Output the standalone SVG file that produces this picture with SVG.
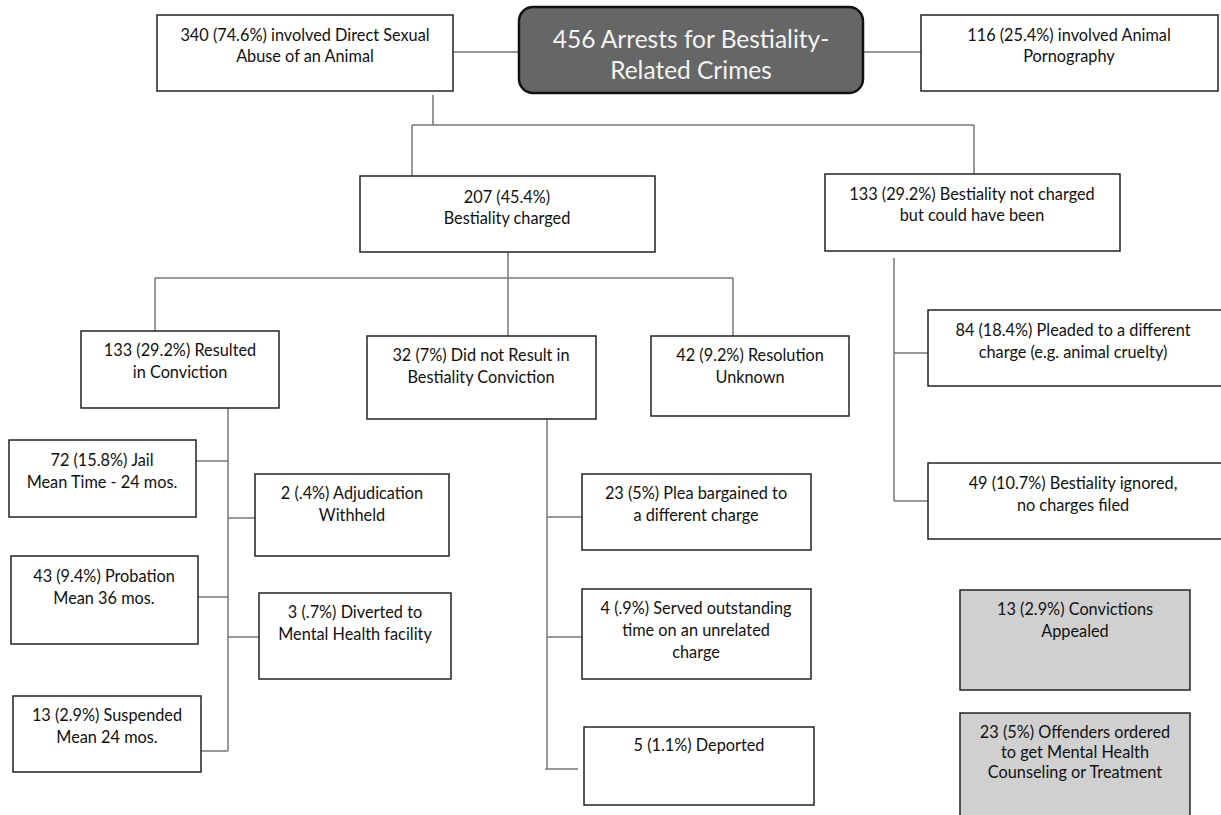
<svg xmlns="http://www.w3.org/2000/svg" width="1221" height="815" viewBox="0 0 1221 815">
<style>
.box{fill:#ffffff;stroke:#222222;stroke-width:1.5}
.grey{fill:#d0d0d0;stroke:#222222;stroke-width:1.5}
.title{fill:#666666;stroke:#111111;stroke-width:2.5}
text{font-family:Lato,"Liberation Sans",sans-serif;font-size:16.3px;fill:#111111;text-anchor:middle}
.tt{font-size:24.5px;fill:#f4f4f4}
.conn line{stroke:#777777;stroke-width:1.5}
</style>
<rect width="1221" height="815" fill="#ffffff"/>
<g id="connectors" class="conn">
<line x1="453" y1="52" x2="519" y2="52"/>
<line x1="863" y1="52" x2="921" y2="52"/>
<line x1="433" y1="95" x2="433" y2="125"/>
<line x1="412" y1="125" x2="974" y2="125"/>
<line x1="412" y1="125" x2="412" y2="176"/>
<line x1="974" y1="125" x2="974" y2="174"/>
<line x1="508" y1="252" x2="508" y2="336"/>
<line x1="155" y1="278" x2="733" y2="278"/>
<line x1="155" y1="278" x2="155" y2="331"/>
<line x1="733" y1="278" x2="733" y2="336"/>
<line x1="228" y1="408" x2="228" y2="751"/>
<line x1="196" y1="461" x2="228" y2="461"/>
<line x1="228" y1="518" x2="255" y2="518"/>
<line x1="198" y1="597" x2="228" y2="597"/>
<line x1="228" y1="637" x2="259" y2="637"/>
<line x1="201" y1="751" x2="228" y2="751"/>
<line x1="547" y1="419" x2="547" y2="769"/>
<line x1="547" y1="517" x2="582" y2="517"/>
<line x1="547" y1="637" x2="582" y2="637"/>
<line x1="545" y1="769" x2="578" y2="769"/>
<line x1="894" y1="258" x2="894" y2="501"/>
<line x1="894" y1="353" x2="928" y2="353"/>
<line x1="894" y1="501" x2="928" y2="501"/>
</g>
<g id="n-title">
<rect class="title" x="519" y="7" width="344" height="86" rx="14"/>
<text class="tt" x="691" y="48">456 Arrests for Bestiality-</text>
<text class="tt" x="691" y="79">Related Crimes</text>
</g>
<g id="n-direct">
<rect class="box" x="157" y="15" width="296" height="76"/>
<text x="305" y="41">340 (74.6%) involved Direct Sexual</text>
<text x="305" y="62">Abuse of an Animal</text>
</g>
<g id="n-porn">
<rect class="box" x="921" y="15" width="297" height="76"/>
<text x="1069" y="41">116 (25.4%) involved Animal</text>
<text x="1069" y="62">Pornography</text>
</g>
<g id="n-charged">
<rect class="box" x="360" y="176" width="295" height="76"/>
<text x="507" y="203">207 (45.4%)</text>
<text x="507" y="224">Bestiality charged</text>
</g>
<g id="n-notcharged">
<rect class="box" x="825" y="174" width="295" height="77"/>
<text x="972" y="200">133 (29.2%) Bestiality not charged</text>
<text x="972" y="221">but could have been</text>
</g>
<g id="n-conviction">
<rect class="box" x="81" y="331" width="198" height="77"/>
<text x="180" y="356">133 (29.2%) Resulted</text>
<text x="180" y="378">in Conviction</text>
</g>
<g id="n-noconviction">
<rect class="box" x="367" y="336" width="229" height="83"/>
<text x="481" y="361">32 (7%) Did not Result in</text>
<text x="481" y="383">Bestiality Conviction</text>
</g>
<g id="n-unknown">
<rect class="box" x="651" y="336" width="198" height="80"/>
<text x="750" y="361">42 (9.2%) Resolution</text>
<text x="750" y="383">Unknown</text>
</g>
<g id="n-jail">
<rect class="box" x="9" y="440" width="187" height="77"/>
<text x="102" y="466">72 (15.8%) Jail</text>
<text x="102" y="488">Mean Time - 24 mos.</text>
</g>
<g id="n-adjudication">
<rect class="box" x="255" y="474" width="194" height="82"/>
<text x="352" y="499">2 (.4%) Adjudication</text>
<text x="352" y="521">Withheld</text>
</g>
<g id="n-probation">
<rect class="box" x="11" y="556" width="187" height="88"/>
<text x="104" y="582">43 (9.4%) Probation</text>
<text x="104" y="604">Mean 36 mos.</text>
</g>
<g id="n-diverted">
<rect class="box" x="259" y="593" width="192" height="86"/>
<text x="355" y="618">3 (.7%) Diverted to</text>
<text x="355" y="640">Mental Health facility</text>
</g>
<g id="n-suspended">
<rect class="box" x="13" y="696" width="188" height="76"/>
<text x="107" y="721">13 (2.9%) Suspended</text>
<text x="107" y="743">Mean 24 mos.</text>
</g>
<g id="n-plea">
<rect class="box" x="582" y="474" width="229" height="76"/>
<text x="696" y="499">23 (5%) Plea bargained to</text>
<text x="696" y="521">a different charge</text>
</g>
<g id="n-served">
<rect class="box" x="582" y="589" width="229" height="90"/>
<text x="696" y="614">4 (.9%) Served outstanding</text>
<text x="696" y="636">time on an unrelated</text>
<text x="696" y="658">charge</text>
</g>
<g id="n-deported">
<rect class="box" x="584" y="727" width="230" height="78"/>
<text x="699" y="751">5 (1.1%) Deported</text>
</g>
<g id="n-pleaded">
<rect class="box" x="928" y="310" width="297" height="76"/>
<text x="1073" y="336">84 (18.4%) Pleaded to a different</text>
<text x="1073" y="358">charge (e.g. animal cruelty)</text>
</g>
<g id="n-ignored">
<rect class="box" x="928" y="463" width="297" height="76"/>
<text x="1073" y="489">49 (10.7%) Bestiality ignored,</text>
<text x="1073" y="511">no charges filed</text>
</g>
<g id="n-appealed">
<rect class="grey" x="960" y="590" width="230" height="100"/>
<text x="1075" y="615">13 (2.9%) Convictions</text>
<text x="1075" y="637">Appealed</text>
</g>
<g id="n-counseling">
<rect class="grey" x="960" y="713" width="230" height="110"/>
<text x="1075" y="738">23 (5%) Offenders ordered</text>
<text x="1075" y="758">to get Mental Health</text>
<text x="1075" y="778">Counseling or Treatment</text>
</g>
</svg>
